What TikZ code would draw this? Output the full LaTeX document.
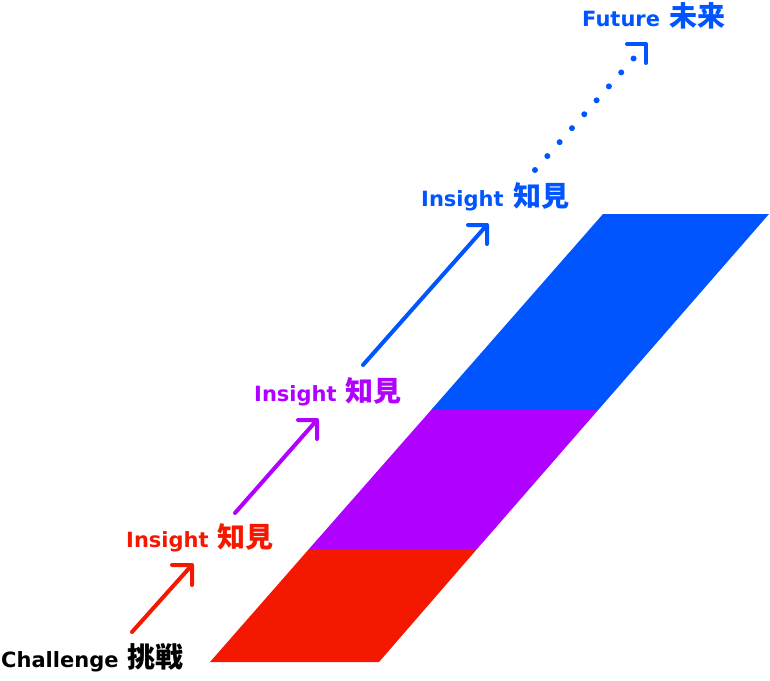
\documentclass[tikz,border=0pt]{standalone}
\usepackage{fontspec}
\setmainfont{DejaVu Sans}
\newfontfamily\cjk{Noto Sans CJK JP}
\definecolor{cred}{RGB}{245,24,0}
\definecolor{cpurple}{RGB}{176,0,255}
\definecolor{cblue}{RGB}{0,85,255}
\newcommand{\jp}[1]{\hspace{2pt}{\cjk\fontsize{28}{28}\selectfont #1}}
\tikzset{
  lbl/.style={anchor=base west, inner sep=0pt, font=\fontsize{21}{24}\selectfont\bfseries},
  arrline/.style={line width=4pt, line cap=round, line join=round},
  dotline/.style={line width=6pt, line cap=round, dash pattern=on 0pt off 18.6pt},
}
\begin{document}
\begin{tikzpicture}[x=1pt,y=-1pt]
\useasboundingbox (0,0) rectangle (770,680);
% parallelogram bands
\fill[cred] (210,662) -- (379,662) -- (477,549) -- (309,549) -- cycle;
\fill[cpurple] (309,549) -- (477,549) -- (599,409) -- (432,409) -- cycle;
\fill[cblue] (432,409) -- (599,409) -- (769,214) -- (603,214) -- cycle;
% labels
\node[lbl] (ch) at (1,667) {Challenge \jp{挑戦}};
\node[lbl, text=cred] (i1) at (126,547) {Insight \jp{知見}};
\node[lbl, text=cpurple] (i2) at (254,401) {Insight \jp{知見}};
\node[lbl, text=cblue] (i3) at (421,206) {Insight \jp{知見}};
\node[lbl, text=cblue] (fu) at (582,27) {Future \jp{未来}};
% arrow end points
\coordinate (a1s) at (132,632);
\coordinate (a1e) at (192,565);
\coordinate (a2s) at (235,513);
\coordinate (a2e) at (317,420);
\coordinate (a3s) at (363,365);
\coordinate (a3e) at (487,225);
\coordinate (d1) at (535,170);
\coordinate (d2) at (634,58);
\coordinate (a4e) at (646,44);
% arrows
\draw[arrline, cred] (a1s) -- (a1e)
  ([shift={(-20,0)}]a1e) -- (a1e) -- ([shift={(0,20)}]a1e);
\draw[arrline, cpurple] (a2s) -- (a2e)
  ([shift={(-19,0)}]a2e) -- (a2e) -- ([shift={(0,19)}]a2e);
\draw[arrline, cblue] (a3s) -- (a3e)
  ([shift={(-19,0)}]a3e) -- (a3e) -- ([shift={(0,19)}]a3e);
\draw[dotline, cblue] (d1) -- (d2);
\draw[arrline, cblue] ([shift={(-19,0)}]a4e) -- (a4e) -- ([shift={(0,19)}]a4e);
\end{tikzpicture}
\end{document}
